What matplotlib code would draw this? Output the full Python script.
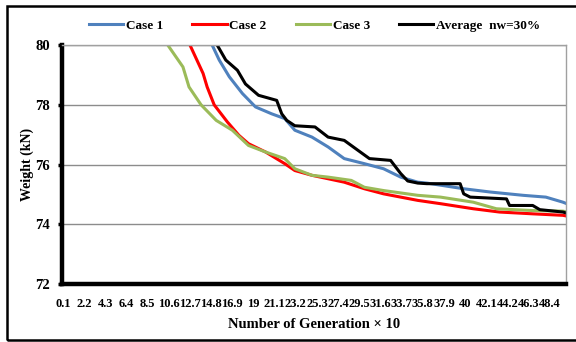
import numpy as np
import matplotlib
matplotlib.use("Agg")
import matplotlib.pyplot as plt
from matplotlib.patches import Rectangle

plt.rcParams['font.family'] = ['Liberation Serif', 'DejaVu Serif']
plt.rcParams['font.weight'] = 'bold'

# generation (x10) and weight (kN)
case1_x = [0.1, 14.9, 15.6, 16.6, 17.9, 19.2, 20.8, 22.1, 23.1, 24.8, 26.4, 28.0, 30.0,
           31.9, 33.6, 35.3, 36.2, 39.85, 42.5, 45.75, 48.0, 49.7, 50.0]
case1_y = [88.0, 80.0, 79.5, 78.94, 78.38, 77.93, 77.7, 77.54, 77.15, 76.92, 76.59, 76.2, 76.03,
           75.86, 75.58, 75.41, 75.38, 75.19, 75.08, 74.97, 74.91, 74.74, 74.7]

case2_x = [0.1, 12.7, 14.0, 14.4, 15.1, 16.4, 17.55, 18.5, 20.2, 22.1, 23.1, 24.8, 28.0,
           30.0, 31.9, 35.3, 37.55, 40.8, 43.4, 46.7, 49.7, 50.0]
case2_y = [90.0, 80.0, 79.05, 78.6, 78.0, 77.43, 76.98, 76.7, 76.42, 76.03, 75.8, 75.64, 75.41,
           75.19, 75.02, 74.8, 74.69, 74.52, 74.41, 74.35, 74.3, 74.28]

case3_x = [0.1, 10.5, 12.0, 12.6, 13.8, 15.3, 16.9, 18.5, 20.2, 22.1, 23.1, 24.8, 26.4,
           28.7, 30.0, 31.9, 35.3, 37.55, 40.8, 43.1, 46.7, 49.7, 50.0]
case3_y = [92.0, 80.0, 79.27, 78.6, 78.0, 77.48, 77.15, 76.64, 76.42, 76.2, 75.86, 75.64, 75.58,
           75.47, 75.24, 75.13, 74.97, 74.91, 74.74, 74.52, 74.46, 74.44, 74.42]

avg_x = [0.1, 15.4, 16.25, 17.4, 18.2, 19.5, 21.3, 21.8, 22.3, 23.1, 25.1, 26.4, 28.0,
         29.35, 30.5, 32.6, 33.6, 34.3, 35.3, 36.2, 39.5, 39.85, 40.5, 44.1, 44.4, 46.7,
         47.4, 49.7, 50.0]
avg_y = [90.0, 80.0, 79.5, 79.16, 78.7, 78.32, 78.15, 77.7, 77.48, 77.3, 77.26, 76.92, 76.81,
         76.48, 76.2, 76.14, 75.7, 75.45, 75.38, 75.36, 75.36, 75.02, 74.91, 74.85, 74.63, 74.63,
         74.49, 74.41, 74.38]

xtick_vals = np.round(np.arange(0.1, 49, 2.1), 1)
xtick_labels = ['%g' % v for v in xtick_vals]
ytick_vals = [72, 74, 76, 78, 80]

fig = plt.figure(figsize=(5.76, 3.42), dpi=100)

# outer frame around the whole chart (right side runs off the picture)
fig.patches.append(Rectangle((7 / 576, 2.5 / 342), 580 / 576, 334 / 342, transform=fig.transFigure,
                             fill=False, edgecolor='black', lw=1.8))

ax = fig.add_axes([0.1085, 0.1696, 0.875, 0.6984])

ax.plot(case1_x, case1_y, color='#4f81bd', lw=2.2, label='Case 1')
ax.plot(case2_x, case2_y, color='#ff0000', lw=2.2, label='Case 2')
ax.plot(case3_x, case3_y, color='#9bbb59', lw=2.2, label='Case 3')
ax.plot(avg_x, avg_y, color='black', lw=2.2, label='Average  nw=30%')

ax.set_xlim(0.05, 50.05)
ax.set_ylim(72, 80)
ax.set_yticks(ytick_vals)
ax.set_xticks(xtick_vals)
ax.set_xticklabels(xtick_labels, fontsize=9, fontweight='bold')
ax.tick_params(axis='x', length=0, pad=10)
ax.tick_params(axis='y', length=3, width=2.5, direction='out', pad=6, labelsize=10.5)
for lab in ax.get_yticklabels():
    lab.set_fontweight('bold')

ax.grid(axis='y', color='#8c8c8c', lw=1)
ax.set_axisbelow(True)

ax.spines['left'].set_linewidth(3.2)
ax.spines['bottom'].set_linewidth(3.2)
ax.spines['right'].set_color('#a0a0a0')
ax.spines['top'].set_color('#a0a0a0')
ax.spines['right'].set_linewidth(1)
ax.spines['top'].set_linewidth(1)

ax.set_ylabel('Weight (kN)', fontsize=10, fontweight='bold', labelpad=1)
ax.set_xlabel('Number of Generation \u00d7 10', fontsize=10.5, fontweight='bold', labelpad=6)

ax.legend(loc='lower center', bbox_to_anchor=(0.5, 1.0), ncol=4, frameon=False,
          prop={'size': 9.5, 'weight': 'bold'}, handlelength=2.6, handletextpad=0.2,
          columnspacing=2.2, borderaxespad=0.6)

fig.savefig('out.png', dpi=100)
